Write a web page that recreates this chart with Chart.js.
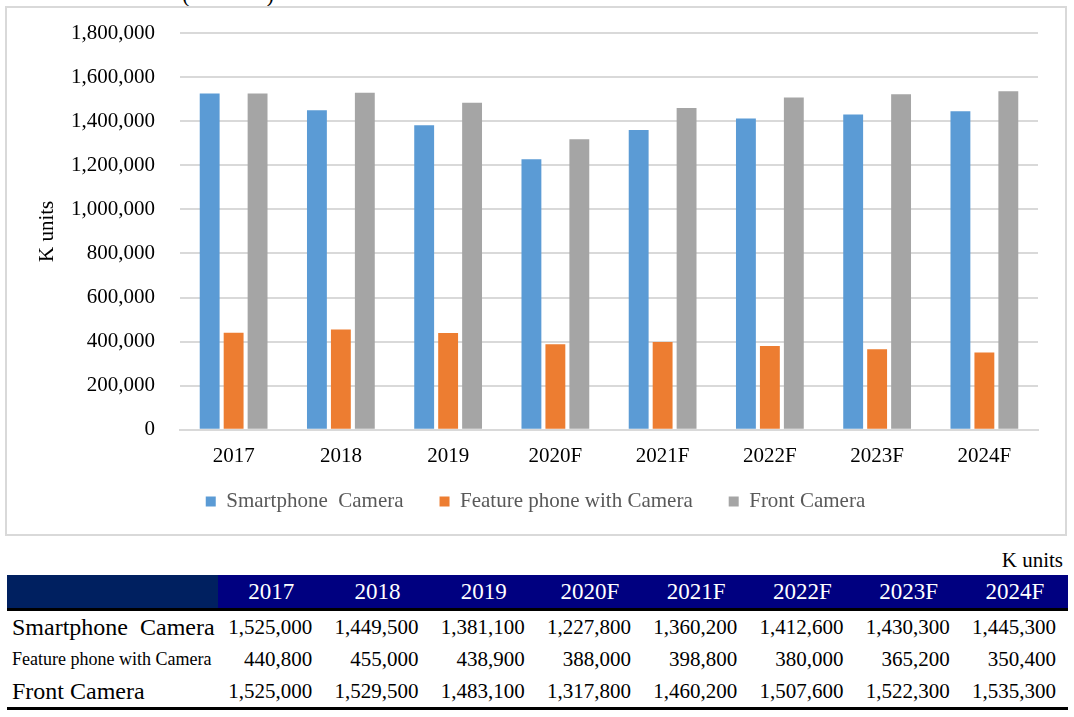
<!DOCTYPE html>
<html><head><meta charset="utf-8">
<script src="https://cdn.jsdelivr.net/npm/chart.js@4"></script>
<style>
html,body{margin:0;padding:0;background:#fff;width:1074px;height:717px;overflow:hidden;font-family:"Liberation Serif","Times New Roman",serif;}
#title{position:absolute;left:0;top:-18px;width:456px;text-align:center;font-size:22px;color:#000;}
#box{position:absolute;left:5px;top:6px;width:1058px;height:526px;border:2px solid #d9d9d9;box-sizing:content-box;}
#unit{position:absolute;right:11px;top:548px;font-size:21px;color:#000;}
table{position:absolute;left:7px;top:575px;width:1061px;border-collapse:collapse;font-size:21px;color:#000;table-layout:fixed;}
th{background:#000080;color:#fff;font-weight:normal;font-size:23px;height:33px;text-align:center;padding:0;border-bottom:3px solid #000;}
th.first{background:#002060;width:211px;}
td{text-align:right;padding:0 12px 0 0;height:32px;white-space:nowrap;}
td.lab{text-align:left;padding:0 0 0 5px;font-size:24px;overflow:visible;}
td.lab.small{font-size:18px;}
tr.last td{border-bottom:3px solid #000;}
</style></head>
<body>
<div id="title">(&nbsp;&nbsp;&nbsp;&nbsp;&nbsp;&nbsp;&nbsp;&nbsp;&nbsp;&nbsp;&nbsp;&nbsp;&nbsp;&nbsp;)</div>
<div id="box"><canvas id="c" width="1058" height="526"></canvas></div>
<div id="unit">K units</div>
<table id="tbl"></table>
<script>
const categories = ["2017","2018","2019","2020F","2021F","2022F","2023F","2024F"];
const smartphoneCamera = [1525000,1449500,1381100,1227800,1360200,1412600,1430300,1445300];
const featurePhoneCamera = [440800,455000,438900,388000,398800,380000,365200,350400];
const frontCamera = [1525000,1529500,1483100,1317800,1460200,1507600,1522300,1535300];
const seriesNames = ["Smartphone  Camera","Feature phone with Camera","Front Camera"];
const yTicks = [0,200000,400000,600000,800000,1000000,1200000,1400000,1600000,1800000];

const colors = ["#5B9BD5","#ED7D31","#A5A5A5"];
const series = [smartphoneCamera, featurePhoneCamera, frontCamera];
const fontFam = '"Liberation Serif","Times New Roman",serif';
const LEGEND_SHRINK = 8, LEGEND_SHIFT = 20;

const legendTweak = {
  id:'legendTweak',
  beforeInit(chart){
    const fit = chart.legend.fit;
    chart.legend.fit = function(){ fit.call(this); this.height -= LEGEND_SHRINK; };
  },
  afterLayout(chart){
    chart.legend.top -= LEGEND_SHIFT;
  }
};

new Chart(document.getElementById('c'), {
  type: 'bar',
  data: {
    labels: categories,
    datasets: series.map((d,i)=>({label: seriesNames[i], data: d, backgroundColor: colors[i], borderWidth:0,
      categoryPercentage: 0.67, barPercentage: 0.83}))
  },
  plugins:[legendTweak],
  options: {
    responsive:false, animation:false,
    layout:{padding:{top:25,right:27,left:26,bottom:0}},
    plugins:{
      legend:{position:'bottom', labels:{font:{family:fontFam,size:21}, color:'#595959', boxWidth:10, boxHeight:10, padding:36}},
      tooltip:{enabled:false}
    },
    scales:{
      x:{grid:{display:false}, border:{color:'#d9d9d9', width:2},
         ticks:{font:{family:fontFam,size:21}, color:'#000', padding:6}},
      y:{min:0,max:1800000,
         afterBuildTicks: ax => { ax.ticks = yTicks.map(v=>({value:v})); },
         afterFit: sc => { sc.width = 147; sc.paddingTop = 0; },
         grid:{color:'#d9d9d9', lineWidth:2, drawTicks:false},
         border:{display:false},
         ticks:{font:{family:fontFam,size:21}, color:'#000', padding:25,
           callback: v => v.toLocaleString('en-US')},
         title:{display:true, text:'K units', font:{family:fontFam,size:21}, color:'#000', padding:{top:2,bottom:0}}}
    }
  }
});

// table
const tbl = document.getElementById('tbl');
let h = '<tr><th class="first"></th>' + categories.map(c=>'<th>'+c+'</th>').join('') + '</tr>';
series.forEach((d,i)=>{
  const cls = i===1 ? 'lab small' : 'lab';
  h += '<tr' + (i===2?' class="last"':'') + '><td class="'+cls+'">'+seriesNames[i].replace(/  /g,'&nbsp; ')+'</td>' +
       d.map(v=>'<td>'+v.toLocaleString('en-US')+'</td>').join('') + '</tr>';
});
tbl.innerHTML = h;
</script>
</body></html>
